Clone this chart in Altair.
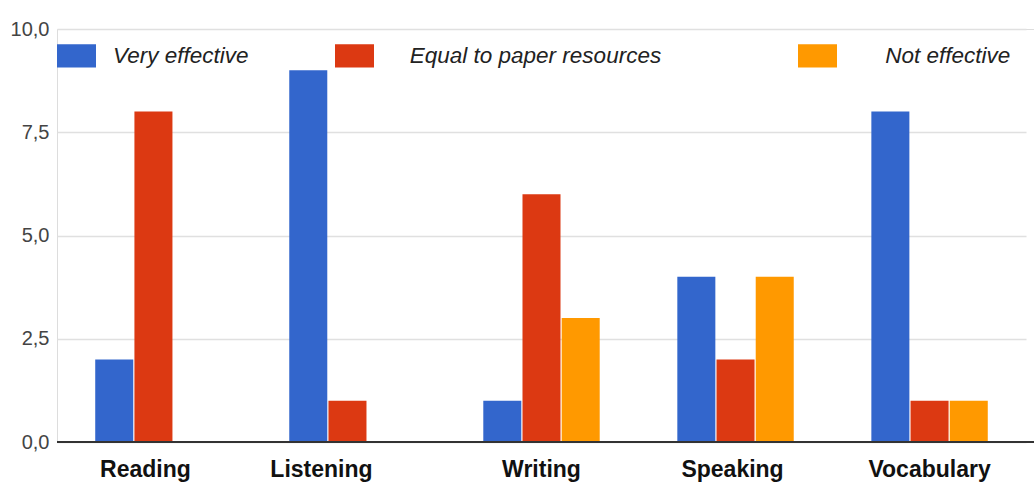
import altair as alt
import pandas as pd

categories = ["Reading", "Listening", "Writing", "Speaking", "Vocabulary"]
series = ["Very effective", "Equal to paper resources", "Not effective"]
very_effective = [2, 9, 1, 4, 8]
equal_paper = [8, 1, 6, 2, 1]
not_effective = [0, 0, 3, 4, 1]
colors = ["#3366cc", "#dc3912", "#ff9900"]
y_ticks = [0, 2.5, 5, 7.5, 10]

rows = []
for i, c in enumerate(categories):
    for s, vals in zip(series, [very_effective, equal_paper, not_effective]):
        rows.append({"category": c, "series": s, "value": vals[i]})
df = pd.DataFrame(rows)

FONT = "Liberation Sans"
NB = "\\u00a0"
ZW = "\\u200b"
legend_label_expr = (
    "datum.label == 'Equal to paper resources' ? '" + ZW + NB * 3 + "' + datum.label + '" + NB * 8 + ZW + "' : "
    "datum.label == 'Not effective' ? '" + ZW + NB * 5 + "' + datum.label : datum.label"
)

label_shift = {
    "condition": [
        {"test": "datum.value === 'Reading'", "value": -8},
        {"test": "datum.value === 'Listening'", "value": -26},
        {"test": "datum.value === 'Speaking'", "value": -3},
    ],
    "value": 0,
}

bars = alt.Chart(df).mark_bar().encode(
    x=alt.X("category:N", sort=categories, title=None,
            scale=alt.Scale(paddingInner=0.4, paddingOuter=0.197, range=[0, 969]),
            axis=alt.Axis(labelAngle=0, labelFont=FONT, labelFontSize=23,
                          labelFontWeight="bold", labelColor="#111",
                          labelPadding=16, ticks=False, domain=False,
                          labelOffset=label_shift)),
    xOffset=alt.XOffset("series:N", sort=series,
                        scale=alt.Scale(paddingInner=0.03, paddingOuter=0)),
    y=alt.Y("value:Q", title=None,
            scale=alt.Scale(domain=[0, 10], nice=False),
            axis=alt.Axis(values=y_ticks,
                          labelExpr="replace(format(datum.value, '.1f'), '.', ',')",
                          labelFont=FONT, labelFontSize=20, labelColor="#444",
                          labelPadding=8, ticks=False, domain=False,
                          gridColor="#e0e0e0", gridWidth=1.5)),
    color=alt.Color("series:N", sort=series,
                    scale=alt.Scale(domain=series, range=colors),
                    legend=alt.Legend(
                        title=None, orient="none", direction="horizontal",
                        legendX=0, legendY=7, padding=0,
                        symbolType="M-1,-0.6H1V0.6H-1Z", symbolSize=1521,
                        symbolStrokeWidth=0, symbolOpacity=1,
                        labelFont=FONT, labelFontSize=22.5, labelFontStyle="italic",
                        labelColor="#222", labelOffset=17, columnPadding=86,
                        labelLimit=500,
                        labelExpr=legend_label_expr)),
)

baseline = alt.Chart(pd.DataFrame({"v": [0]})).mark_rule(color="#333", strokeWidth=2).encode(
    y=alt.Y("v:Q"),
)

chart = alt.layer(bars, baseline).properties(
    width=977, height=413,
    padding={"left": 57, "top": 29, "right": 0, "bottom": 40},
    autosize="none",
).configure_view(stroke=None).configure(background="white")

chart.save("out.html", embed_options={"renderer": "svg", "actions": False})
